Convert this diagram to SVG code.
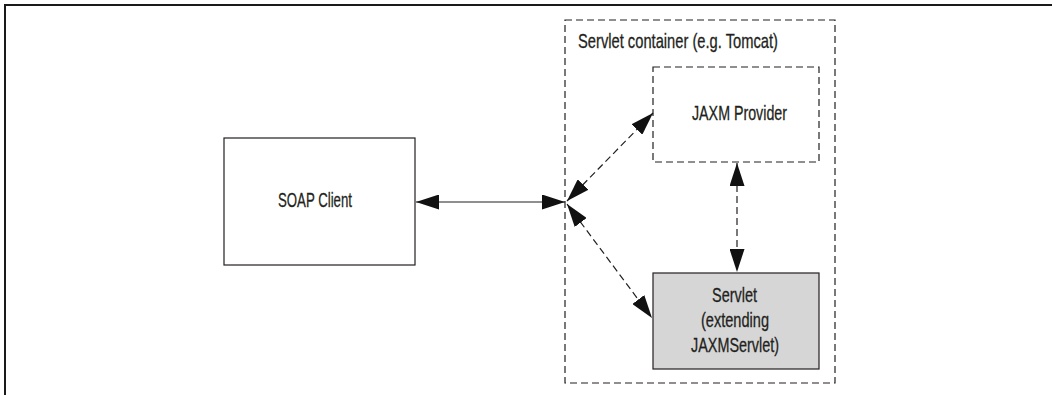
<svg xmlns="http://www.w3.org/2000/svg" width="1052" height="395" viewBox="0 0 1052 395">
  <style>
    .lbl { font-family: "Liberation Sans", Arial, sans-serif; font-size: 21px; fill: #231f20; stroke: #231f20; stroke-width: 0.3; }
    .mid { text-anchor: middle; }
    .box { fill: #ffffff; stroke: #231f20; stroke-width: 1.2; }
    .dash { stroke-dasharray: 7 4; }
    .conn { fill: none; stroke: #231f20; stroke-width: 1.2; }
  </style>
  <defs>
    <marker id="head" markerUnits="userSpaceOnUse" markerWidth="23" markerHeight="15" refX="23" refY="7.5" orient="auto-start-reverse">
      <path d="M0,0 L23,7.5 L0,15 Z" fill="#111"/>
    </marker>
  </defs>

  <rect width="1052" height="395" fill="#ffffff"/>

  <!-- page frame -->
  <g id="frame">
    <path d="M5,395 V5 H1052" fill="none" stroke="#1a1a1a" stroke-width="2"/>
  </g>

  <!-- servlet container boundary -->
  <g id="container">
    <rect class="box dash" x="565" y="20" width="270" height="363"/>
    <text class="lbl" x="578" y="48" textLength="200" lengthAdjust="spacingAndGlyphs">Servlet container (e.g. Tomcat)</text>
  </g>

  <g id="soap-client">
    <rect class="box" x="224" y="138" width="191" height="127"/>
    <text class="lbl mid" x="315" y="207" textLength="74" lengthAdjust="spacingAndGlyphs">SOAP Client</text>
  </g>

  <g id="jaxm-provider">
    <rect class="box dash" x="653" y="67" width="166" height="95"/>
    <text class="lbl mid" x="739.5" y="120" textLength="95" lengthAdjust="spacingAndGlyphs">JAXM Provider</text>
  </g>

  <g id="servlet">
    <rect class="box" x="653" y="273" width="166" height="96" style="fill:#d6d6d6"/>
    <text class="lbl mid" x="734.5" y="302" textLength="45" lengthAdjust="spacingAndGlyphs">Servlet</text>
    <text class="lbl mid" x="735" y="327" textLength="68" lengthAdjust="spacingAndGlyphs">(extending</text>
    <text class="lbl mid" x="735" y="352" textLength="88" lengthAdjust="spacingAndGlyphs">JAXMServlet)</text>
  </g>

  <!-- connectors -->
  <g id="connectors">
    <line class="conn" x1="416" y1="202" x2="565" y2="202" marker-start="url(#head)" marker-end="url(#head)"/>
    <line class="conn dash" x1="567" y1="201" x2="653" y2="113" marker-start="url(#head)" marker-end="url(#head)"/>
    <line class="conn dash" x1="567" y1="204" x2="652" y2="318" marker-start="url(#head)" marker-end="url(#head)"/>
    <line class="conn dash" x1="737" y1="163" x2="737" y2="272" marker-start="url(#head)" marker-end="url(#head)"/>
  </g>
</svg>
